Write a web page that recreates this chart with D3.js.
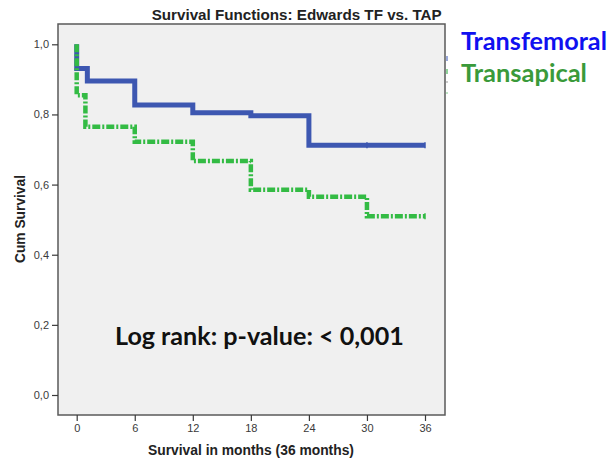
<!DOCTYPE html>
<html>
<head>
<meta charset="utf-8">
<script src="https://cdn.jsdelivr.net/npm/d3@7"></script>
<style>
  html, body { margin: 0; padding: 0; background: #ffffff; }
  svg { display: block; }
</style>
</head>
<body>
<svg id="chart" width="610" height="460"></svg>
<script>
// ---- Data ----
const xTicks = [0, 6, 12, 18, 24, 30, 36];
const yTicks = [0, 0.2, 0.4, 0.6, 0.8, 1.0];

// Transfemoral (blue): event times (months) and survival after each step
const tfTimes = [0, 0, 1.1, 6, 12, 18, 24, 36];
const tfSurv  = [1.0, 0.931, 0.895, 0.827, 0.805, 0.796, 0.712, 0.712];
const tfCensor = [30, 36];

// Transapical (green)
const taTimes = [0, 0, 0.9, 6, 12, 18, 24, 30, 36];
const taSurv  = [1.0, 0.855, 0.765, 0.722, 0.667, 0.585, 0.565, 0.51, 0.51];
const taCensor = [36];

const seriesNames = ["Transfemoral", "Transapical"];
const titleText = "Survival Functions: Edwards TF vs. TAP";
const xTitle = "Survival in months (36 months)";
const yTitle = "Cum Survival";
const noteText = "Log rank: p-value: < 0,001";

// ---- Layout ----
const svg = d3.select("#chart");
const frame = { left: 58, top: 24, right: 445, bottom: 415 };
const x = d3.scaleLinear().domain([0, 36]).range([76.7, 425]);
const y = d3.scaleLinear().domain([0, 1]).range([395, 44.3]);

// plot background + frame
svg.append("rect")
  .attr("x", frame.left).attr("y", frame.top)
  .attr("width", frame.right - frame.left).attr("height", frame.bottom - frame.top)
  .attr("fill", "#f0f0f0").attr("stroke", "#5a5a5a").attr("stroke-width", 1.5);

// faint remnants of the cropped legend at right edge
svg.append("rect").attr("x", 446).attr("y", 56).attr("width", 2).attr("height", 5).attr("fill", "#9aa8d8");
svg.append("rect").attr("x", 446).attr("y", 69).attr("width", 2).attr("height", 5).attr("fill", "#8fd39a");
svg.append("rect").attr("x", 446).attr("y", 81).attr("width", 2).attr("height", 2).attr("fill", "#cccccc");
svg.append("rect").attr("x", 446).attr("y", 92).attr("width", 2).attr("height", 2).attr("fill", "#bfe6c5");

// Axes
const fmt = d => d3.format(".1f")(d).replace(".", ",");
const yAxis = svg.append("g")
  .attr("transform", `translate(${frame.left},0)`)
  .call(d3.axisLeft(y).tickValues(yTicks).tickFormat(fmt).tickSize(6).tickPadding(3));
yAxis.select(".domain").remove();

const xAxis = svg.append("g")
  .attr("transform", `translate(0,${frame.bottom})`)
  .call(d3.axisBottom(x).tickValues(xTicks).tickFormat(d3.format("d")).tickSize(6).tickPadding(3));
xAxis.select(".domain").remove();

[yAxis, xAxis].forEach(g => {
  g.selectAll("text").attr("font-family", "'Liberation Sans', Arial, sans-serif")
    .attr("font-size", 11).attr("fill", "#3a3a3a");
  g.selectAll("line").attr("stroke", "#3a3a3a").attr("stroke-width", 1.2);
});

// Step lines
const line = d3.line().x(d => x(d[0])).y(d => y(d[1])).curve(d3.curveStepAfter);
const tfData = tfTimes.map((t, i) => [t, tfSurv[i]]);
const taData = taTimes.map((t, i) => [t, taSurv[i]]);

svg.append("path").datum(tfData)
  .attr("d", line).attr("fill", "none")
  .attr("stroke", "#3d57b1").attr("stroke-width", 5);

svg.append("path").datum(taData)
  .attr("d", line).attr("fill", "none")
  .attr("stroke", "#33bb44").attr("stroke-width", 4.5)
  .attr("stroke-dasharray", "8,2,2,2");

// censor ticks
const survAt = (times, surv, t) => { let v = surv[0]; times.forEach((tt, i) => { if (tt <= t) v = surv[i]; }); return v; };
svg.selectAll(".ctf").data(tfCensor).enter().append("line")
  .attr("x1", d => x(d)).attr("x2", d => x(d))
  .attr("y1", d => y(survAt(tfTimes, tfSurv, d)) - 3).attr("y2", d => y(survAt(tfTimes, tfSurv, d)) + 3)
  .attr("stroke", "#3d57b1").attr("stroke-width", 1.5);
svg.selectAll(".cta").data(taCensor).enter().append("line")
  .attr("x1", d => x(d)).attr("x2", d => x(d))
  .attr("y1", d => y(survAt(taTimes, taSurv, d)) - 3).attr("y2", d => y(survAt(taTimes, taSurv, d)) + 3)
  .attr("stroke", "#33bb44").attr("stroke-width", 1.5);

// Helper to fit text to a measured width
function fit(sel, width) {
  const w = sel.node().getComputedTextLength();
  const fs = parseFloat(sel.attr("font-size"));
  if (w > 0) sel.attr("font-size", (fs * width / w).toFixed(2));
  return sel;
}

// Title
fit(svg.append("text").text(titleText)
  .attr("x", 151.7).attr("y", 20)
  .attr("font-family", "'Liberation Sans', Arial, sans-serif").attr("font-weight", "bold")
  .attr("font-size", 14).attr("fill", "#222"), 290);

// Axis titles
fit(svg.append("text").text(xTitle)
  .attr("x", 251).attr("y", 455).attr("text-anchor", "middle")
  .attr("font-family", "'Liberation Sans', Arial, sans-serif").attr("font-weight", "bold")
  .attr("font-size", 12).attr("fill", "#222"), 206);

fit(svg.append("text").text(yTitle)
  .attr("transform", "translate(25,219) rotate(-90)").attr("text-anchor", "middle")
  .attr("font-family", "'Liberation Sans', Arial, sans-serif").attr("font-weight", "bold")
  .attr("font-size", 12).attr("fill", "#222"), 88);

// Legend labels
const legColors = ["#1010f0", "#3a9a3a"];
const legY = [50, 82];
const legW = [146, 126];
seriesNames.forEach((n, i) => {
  fit(svg.append("text").text(n)
    .attr("x", 461).attr("y", legY[i])
    .attr("font-family", "Lato, 'Open Sans', sans-serif").attr("font-weight", "bold")
    .attr("font-size", 24).attr("fill", legColors[i]), legW[i]);
});

// Log-rank note
fit(svg.append("text").text(noteText)
  .attr("x", 115).attr("y", 345)
  .attr("font-family", "Lato, 'Open Sans', sans-serif").attr("font-weight", "bold")
  .attr("font-size", 24).attr("fill", "#111"), 289);
</script>
</body>
</html>
